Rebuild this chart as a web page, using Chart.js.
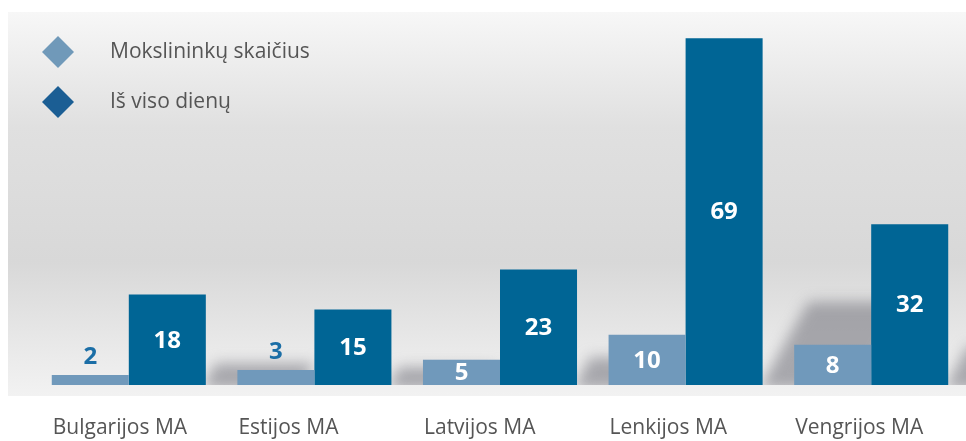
<!DOCTYPE html>
<html>
<head>
<meta charset="utf-8">
<script src="https://cdn.jsdelivr.net/npm/chart.js@4/dist/chart.umd.min.js"></script>
<style>
  html, body { margin: 0; padding: 0; background: #ffffff; }
  #wrap { width: 966px; height: 441px; position: relative; }
</style>
</head>
<body>
<div id="wrap"><canvas id="c" width="966" height="441"></canvas></div>
<script>
const categories = ['Bulgarijos MA', 'Estijos MA', 'Latvijos MA', 'Lenkijos MA', 'Vengrijos MA'];
const researchers = [2, 3, 5, 10, 8];
const days = [18, 15, 23, 69, 32];
const seriesNames = ['Mokslininkų skaičius', 'Iš viso dienų'];

const LIGHT = '#7099bb';
const DARK = '#006595';
const LEG_LIGHT = '#7099b9';
const LEG_DARK = '#1b5e94';
const FONT = "'Open Sans', 'Noto Sans', sans-serif";

const panelPlugin = {
  id: 'panel',
  beforeDraw(chart) {
    const ctx = chart.ctx;
    const x0 = 8, y0 = 12, x1 = 966, y1 = 396;
    const g = ctx.createLinearGradient(0, y0, 0, y1);
    g.addColorStop(0, '#f7f7f7');
    g.addColorStop(0.3, '#e0e0e0');
    g.addColorStop(0.65, '#d8d8d8');
    g.addColorStop(0.9, '#ebebeb');
    g.addColorStop(1, '#f2f2f2');
    ctx.save();
    ctx.fillStyle = g;
    ctx.fillRect(x0, y0, x1 - x0, y1 - y0);
    ctx.restore();
  }
};

const shadowPlugin = {
  id: 'shadows',
  beforeDatasetsDraw(chart) {
    const ctx = chart.ctx;
    const meta = chart.getDatasetMeta(1);
    const area = chart.chartArea;
    ctx.save();
    ctx.beginPath();
    ctx.rect(8, 12, 958, area.bottom - 12);
    ctx.clip();
    ctx.filter = 'blur(7px)';
    ctx.fillStyle = 'rgba(125,125,132,0.62)';
    meta.data.forEach(bar => {
      const h = bar.base - bar.y;
      const b = h * 0.24;
      const a = b * 0.6;
      const xR = bar.x + bar.width / 2 - 4;
      const W = bar.width * 1.3;
      ctx.beginPath();
      ctx.moveTo(xR, bar.base + 4);
      ctx.lineTo(xR + a, bar.base - b);
      ctx.lineTo(xR + a + W, bar.base - b);
      ctx.lineTo(xR + W, bar.base + 4);
      ctx.closePath();
      ctx.fill();
    });
    ctx.restore();
  }
};

const valuePlugin = {
  id: 'values',
  afterDatasetsDraw(chart) {
    const ctx = chart.ctx;
    ctx.save();
    ctx.textAlign = 'center';
    ctx.textBaseline = 'middle';
    ctx.font = "bold 24px " + FONT;
    chart.data.datasets.forEach((ds, di) => {
      const meta = chart.getDatasetMeta(di);
      meta.data.forEach((bar, i) => {
        const v = ds.data[i];
        let y;
        if (v >= 5) {
          ctx.fillStyle = '#ffffff';
          y = (bar.y + bar.base) / 2;
        } else {
          ctx.fillStyle = '#1b6ea6';
          y = bar.y - 19;
        }
        ctx.fillText(String(v), bar.x, y + 1);
      });
    });
    ctx.restore();
  }
};

const legendPlugin = {
  id: 'customLegend',
  afterDraw(chart) {
    const ctx = chart.ctx;
    const colors = [LEG_LIGHT, LEG_DARK];
    ctx.save();
    chart.data.datasets.forEach((ds, i) => {
      const cx = 58, cy = 52 + i * 50, r = 16;
      ctx.fillStyle = colors[i];
      ctx.beginPath();
      ctx.moveTo(cx, cy - r);
      ctx.lineTo(cx + r, cy);
      ctx.lineTo(cx, cy + r);
      ctx.lineTo(cx - r, cy);
      ctx.closePath();
      ctx.fill();
      ctx.fillStyle = '#555555';
      ctx.font = "21px " + FONT;
      ctx.textAlign = 'left';
      ctx.textBaseline = 'middle';
      ctx.fillText(ds.label, 110, cy);
    });
    ctx.restore();
  }
};

new Chart(document.getElementById('c'), {
  type: 'bar',
  data: {
    labels: categories,
    datasets: [
      { label: seriesNames[0], data: researchers, backgroundColor: LIGHT, borderWidth: 0 },
      { label: seriesNames[1], data: days, backgroundColor: DARK, borderWidth: 0 }
    ]
  },
  options: {
    responsive: false,
    animation: false,
    devicePixelRatio: 1,
    layout: { padding: { left: 36, right: 2, top: 8, bottom: 0 } },
    datasets: { bar: { categoryPercentage: 0.83, barPercentage: 1.0 } },
    plugins: { legend: { display: false }, tooltip: { enabled: false } },
    scales: {
      x: {
        grid: { display: false, drawTicks: false },
        border: { display: false },
        afterFit(scale) {
          scale.paddingLeft = 0;
          scale.paddingRight = 0;
          scale.height = 56;
        },
        ticks: {
          color: '#555555',
          font: { family: FONT, size: 21 },
          padding: 30,
          align: 'start',
          labelOffset: -76,
          maxRotation: 0,
          autoSkip: false
        }
      },
      y: {
        display: false,
        min: 0,
        max: 75
      }
    }
  },
  plugins: [panelPlugin, shadowPlugin, valuePlugin, legendPlugin]
});
</script>
</body>
</html>
